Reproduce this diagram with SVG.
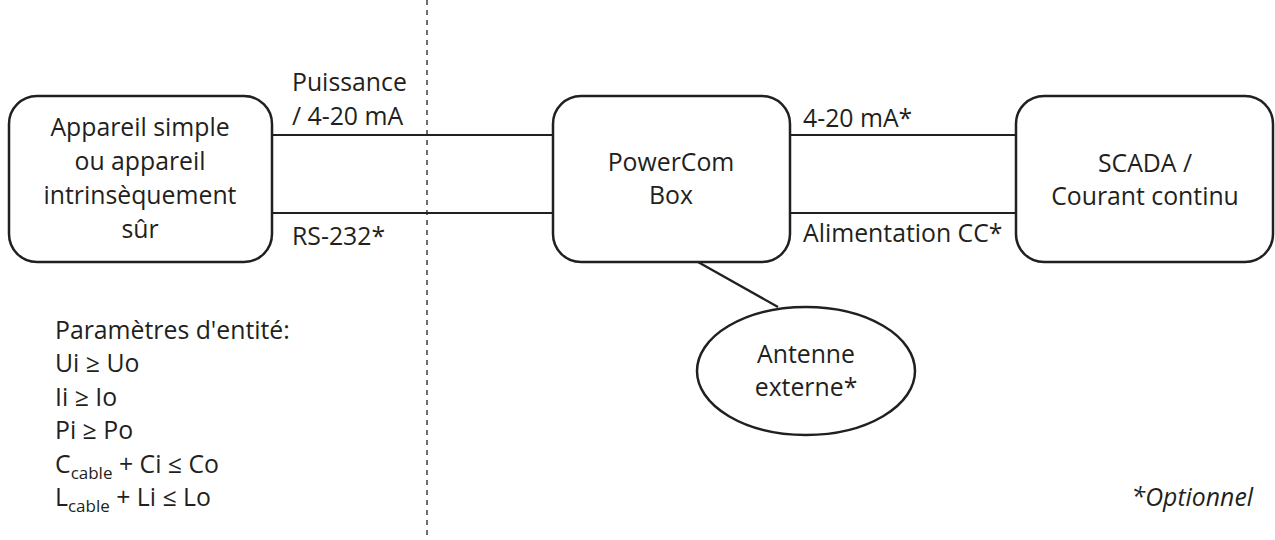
<svg xmlns="http://www.w3.org/2000/svg" width="1275" height="540" viewBox="0 0 1275 540">
<style>
.box{fill:#fff;stroke:#231f20;stroke-width:2.5}
.ln{stroke:#231f20;stroke-width:2.2;fill:none}
.t{font-family:"Open Sans","Liberation Sans",sans-serif;font-size:24.8px;fill:#231f20}
.c{text-anchor:middle}
.sub{font-size:17px}
</style>
<rect width="1275" height="540" fill="#fff"/>
<line x1="427" y1="0" x2="427" y2="540" stroke="#231f20" stroke-width="1.3" stroke-dasharray="5 5"/>
<g id="connectors">
<line class="ln" x1="272" y1="135" x2="553" y2="135"/>
<line class="ln" x1="272" y1="213" x2="553" y2="213"/>
<line class="ln" x1="790" y1="135" x2="1016" y2="135"/>
<line class="ln" x1="790" y1="213" x2="1016" y2="213"/>
<line class="ln" x1="698" y1="262" x2="778" y2="307"/>
<text class="t" x="292" y="91">Puissance</text>
<text class="t" x="292" y="125">/ 4-20 mA</text>
<text class="t" x="292" y="245">RS-232*</text>
<text class="t" x="803" y="127">4-20 mA*</text>
<text class="t" x="803" y="242">Alimentation CC*</text>
</g>
<g id="device">
<rect class="box" x="9" y="96" width="263" height="166" rx="28"/>
<text class="t c" x="140" y="136">Appareil simple</text>
<text class="t c" x="140" y="170">ou appareil</text>
<text class="t c" x="140" y="204">intrinsèquement</text>
<text class="t c" x="140" y="238">sûr</text>
</g>
<g id="powercom">
<rect class="box" x="553" y="96" width="237" height="166" rx="28"/>
<text class="t c" x="671" y="171">PowerCom</text>
<text class="t c" x="671" y="204">Box</text>
</g>
<g id="scada">
<rect class="box" x="1016" y="96" width="257" height="166" rx="28"/>
<text class="t c" x="1145" y="172">SCADA /</text>
<text class="t c" x="1145" y="205">Courant continu</text>
</g>
<g id="antenna">
<ellipse class="box" cx="806" cy="371" rx="109" ry="64"/>
<text class="t c" x="806" y="363">Antenne</text>
<text class="t c" x="806" y="396">externe*</text>
</g>
<g id="params">
<text class="t" x="55" y="339">Paramètres d'entité:</text>
<text class="t" x="55" y="372">Ui ≥ Uo</text>
<text class="t" x="55" y="406">Ii ≥ Io</text>
<text class="t" x="55" y="439">Pi ≥ Po</text>
<text class="t" x="55" y="473">C<tspan class="sub" dy="6">cable</tspan><tspan dy="-6"> + Ci ≤ Co</tspan></text>
<text class="t" x="55" y="506">L<tspan class="sub" dy="6">cable</tspan><tspan dy="-6"> + Li ≤ Lo</tspan></text>
</g>
<text class="t" x="1253" y="506" text-anchor="end" font-style="italic">*Optionnel</text>
</svg>
